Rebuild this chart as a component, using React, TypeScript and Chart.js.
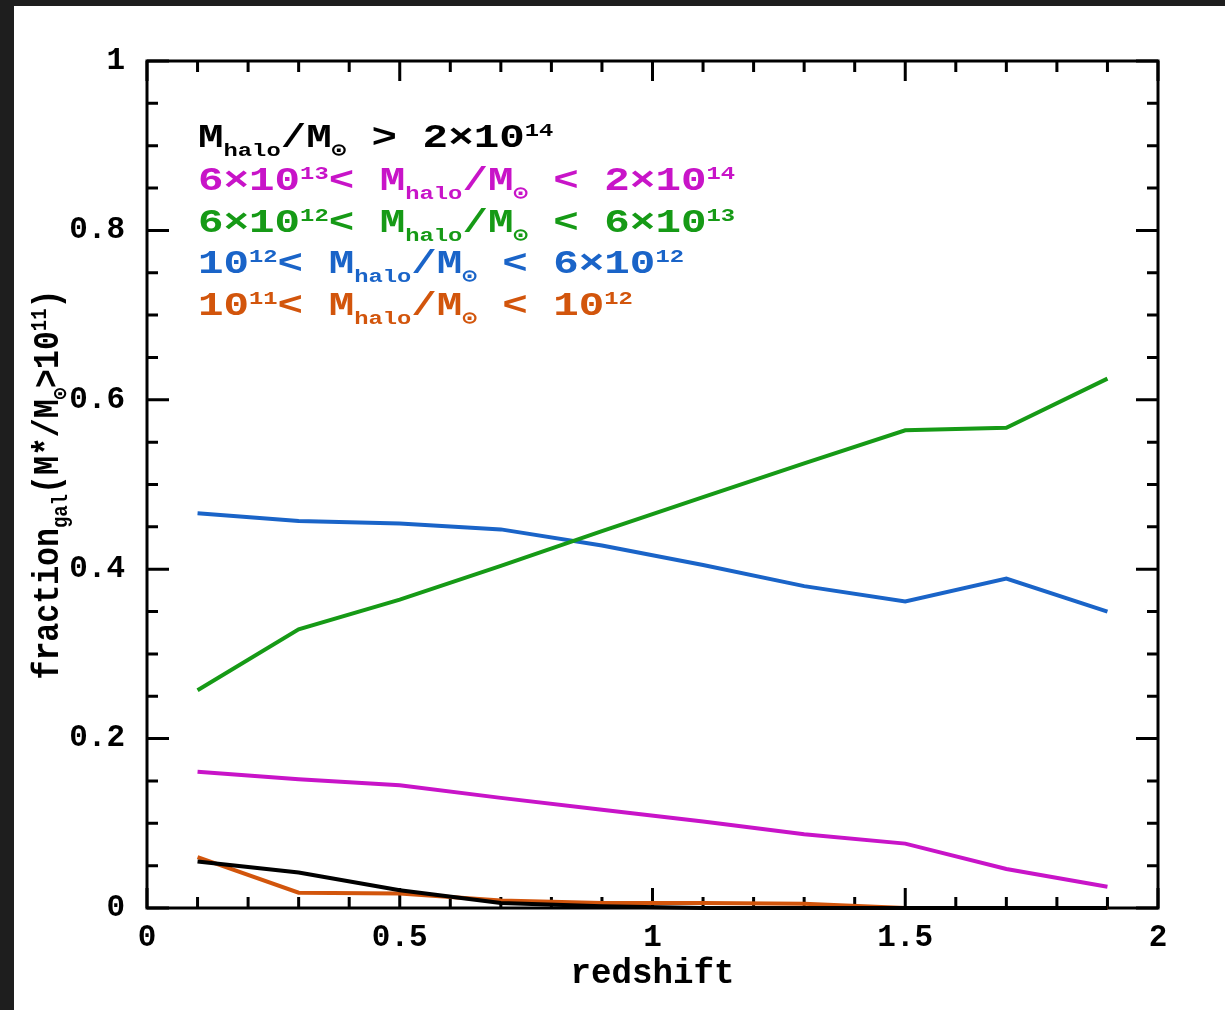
import React, { useEffect, useRef } from "react";
import { Chart, registerables } from "chart.js";

Chart.register(...registerables);

// ---- data ----
const redshift = [0.1, 0.3, 0.5, 0.7, 0.9, 1.1, 1.3, 1.5, 1.7, 1.9];
const fracHaloGt2e14 = [0.055, 0.042, 0.021, 0.006, 0.002, 0, 0, 0, 0, 0];
const frac6e13to2e14 = [0.161, 0.152, 0.145, 0.13, 0.116, 0.102, 0.087, 0.076, 0.046, 0.025];
const frac6e12to6e13 = [0.257, 0.329, 0.364, 0.404, 0.445, 0.485, 0.525, 0.564, 0.567, 0.625];
const frac1e12to6e12 = [0.466, 0.457, 0.454, 0.447, 0.428, 0.405, 0.38, 0.362, 0.389, 0.35];
const frac1e11to1e12 = [0.06, 0.018, 0.017, 0.009, 0.006, 0.006, 0.005, 0, 0, 0];

const seriesValues = [fracHaloGt2e14, frac6e13to2e14, frac6e12to6e13, frac1e12to6e12, frac1e11to1e12];
const seriesColors = ["#000000", "#c814c8", "#169a16", "#1a64c8", "#d2550c"];

type Seg = [string, "n" | "b" | "p"];
const legendLines: Seg[][] = [
  [["M", "n"], ["halo", "b"], ["/M", "n"], ["\u2299", "b"], [" > 2\u00d710", "n"], ["14", "p"]],
  [["6\u00d710", "n"], ["13", "p"], ["< M", "n"], ["halo", "b"], ["/M", "n"], ["\u2299", "b"], [" < 2\u00d710", "n"], ["14", "p"]],
  [["6\u00d710", "n"], ["12", "p"], ["< M", "n"], ["halo", "b"], ["/M", "n"], ["\u2299", "b"], [" < 6\u00d710", "n"], ["13", "p"]],
  [["10", "n"], ["12", "p"], ["< M", "n"], ["halo", "b"], ["/M", "n"], ["\u2299", "b"], [" < 6\u00d710", "n"], ["12", "p"]],
  [["10", "n"], ["11", "p"], ["< M", "n"], ["halo", "b"], ["/M", "n"], ["\u2299", "b"], [" < 10", "n"], ["12", "p"]],
];
const yTitle: Seg[] = [["fraction", "n"], ["gal", "b"], ["(M*/M", "n"], ["\u2299", "b"], [">10", "n"], ["11", "p"], [")", "n"]];
const xTitle = "redshift";

const FONT = '"Liberation Mono", "DejaVu Sans Mono", monospace';

function measureSegs(ctx: CanvasRenderingContext2D, segs: Seg[], size: number, small: number) {
  let w = 0;
  for (const [t, k] of segs) {
    ctx.font = `bold ${k === "n" ? size : size * small}px ${FONT}`;
    w += ctx.measureText(t).width;
  }
  return w;
}

function drawSegs(ctx: CanvasRenderingContext2D, segs: Seg[], size: number, small: number, sx: number, color: string) {
  ctx.save();
  ctx.scale(sx, 1);
  ctx.fillStyle = color;
  ctx.textBaseline = "alphabetic";
  ctx.textAlign = "left";
  let cx = 0;
  for (const [t, k] of segs) {
    const fs = k === "n" ? size : size * small;
    ctx.font = `bold ${fs}px ${FONT}`;
    const dy = k === "b" ? size * 0.25 : k === "p" ? -size * 0.33 : 0;
    ctx.fillText(t, cx, dy);
    cx += ctx.measureText(t).width;
  }
  ctx.restore();
}

const decorPlugin = {
  id: "decor",
  beforeDraw(chart: any) {
    const ctx = chart.ctx as CanvasRenderingContext2D;
    ctx.save();
    ctx.fillStyle = "#1e1e1e";
    ctx.fillRect(0, 0, chart.width, chart.height);
    ctx.fillStyle = "#ffffff";
    ctx.fillRect(14, 6, chart.width - 14, chart.height - 6);
    ctx.restore();
  },
  beforeDatasetsDraw(chart: any) {
    const ctx = chart.ctx as CanvasRenderingContext2D;
    const { left, right, top, bottom } = chart.chartArea;
    const xs = chart.scales.x;
    const ys = chart.scales.y;
    ctx.save();
    ctx.strokeStyle = "#000";
    ctx.lineWidth = 3;
    ctx.strokeRect(left, top, right - left, bottom - top);
    ctx.beginPath();
    for (let i = 0; i <= 20; i++) {
      const v = i / 10;
      const px = xs.getPixelForValue(v);
      const len = i % 5 === 0 ? 20 : 11;
      ctx.moveTo(px, bottom);
      ctx.lineTo(px, bottom - len);
      ctx.moveTo(px, top);
      ctx.lineTo(px, top + len);
    }
    for (let i = 0; i <= 20; i++) {
      const v = i / 20;
      const py = ys.getPixelForValue(v);
      const len = i % 4 === 0 ? 22 : 11;
      ctx.moveTo(left, py);
      ctx.lineTo(left + len, py);
      ctx.moveTo(right, py);
      ctx.lineTo(right - len, py);
    }
    ctx.stroke();
    ctx.restore();
  },
  afterDraw(chart: any) {
    const ctx = chart.ctx as CanvasRenderingContext2D;
    const { left, right, top, bottom } = chart.chartArea;
    // legend
    const lsize = 34;
    const lsmall = 0.56;
    const baselines = [147, 190, 232, 273, 315];
    const targetW = 537;
    const sx = targetW / measureSegs(ctx, legendLines[1], lsize, lsmall);
    legendLines.forEach((segs, i) => {
      ctx.save();
      ctx.translate(198, baselines[i]);
      drawSegs(ctx, segs, lsize, lsmall, sx, seriesColors[i]);
      ctx.restore();
    });
    // y title
    const ysize = 36;
    const yw = measureSegs(ctx, yTitle, ysize, 0.6);
    const ysx = 390 / yw;
    const cy = (top + bottom) / 2;
    ctx.save();
    ctx.translate(58, cy + 195);
    ctx.rotate(-Math.PI / 2);
    drawSegs(ctx, yTitle, ysize, 0.6, ysx, "#000");
    ctx.restore();
    // x title
    ctx.save();
    ctx.font = `bold 35px ${FONT}`;
    const xw = ctx.measureText(xTitle).width;
    const xsx = 164 / xw;
    ctx.translate((left + right) / 2, 983);
    ctx.scale(xsx, 1);
    ctx.fillStyle = "#000";
    ctx.textAlign = "center";
    ctx.textBaseline = "alphabetic";
    ctx.fillText(xTitle, 0, 0);
    ctx.restore();
  },
};

export default function App() {
  const ref = useRef<HTMLCanvasElement | null>(null);
  useEffect(() => {
    if (!ref.current) return;
    const fmt = (v: any) => {
      const r = Math.round(Number(v) * 10) / 10;
      return String(r);
    };
    const chart = new Chart(ref.current, {
      type: "line",
      data: {
        datasets: seriesValues.map((vals, i) => ({
          label: `series${i}`,
          data: redshift.map((x, j) => ({ x, y: vals[j] })),
          borderColor: seriesColors[i],
          backgroundColor: seriesColors[i],
          borderWidth: 4,
          pointRadius: 0,
          tension: 0,
          clip: false as any,
        })),
      },
      options: {
        animation: false,
        responsive: false,
        devicePixelRatio: 1,
        layout: { padding: { top: 61, right: 67, left: 0, bottom: 0 } },
        plugins: { legend: { display: false }, tooltip: { enabled: false } },
        scales: {
          x: {
            type: "linear",
            min: 0,
            max: 2,
            grid: { display: false, drawTicks: false },
            border: { display: false },
            ticks: {
              stepSize: 0.5,
              padding: 12,
              color: "#000",
              font: { family: FONT, size: 31, weight: "bold" },
              maxRotation: 0,
              callback: fmt,
            },
            afterFit: (s: any) => {
              s.height = 102;
            },
          },
          y: {
            type: "linear",
            min: 0,
            max: 1,
            grid: { display: false, drawTicks: false },
            border: { display: false },
            ticks: {
              stepSize: 0.2,
              padding: 22,
              color: "#000",
              font: { family: FONT, size: 31, weight: "bold" },
              callback: fmt,
            },
            afterFit: (s: any) => {
              s.width = 147;
            },
          },
        },
      },
      plugins: [decorPlugin],
    });
    return () => chart.destroy();
  }, []);
  return (
    <div style={{ position: "fixed", left: 0, top: 0, width: 1225, height: 1010 }}>
      <canvas ref={ref} width={1225} height={1010} style={{ display: "block" }} />
    </div>
  );
}
